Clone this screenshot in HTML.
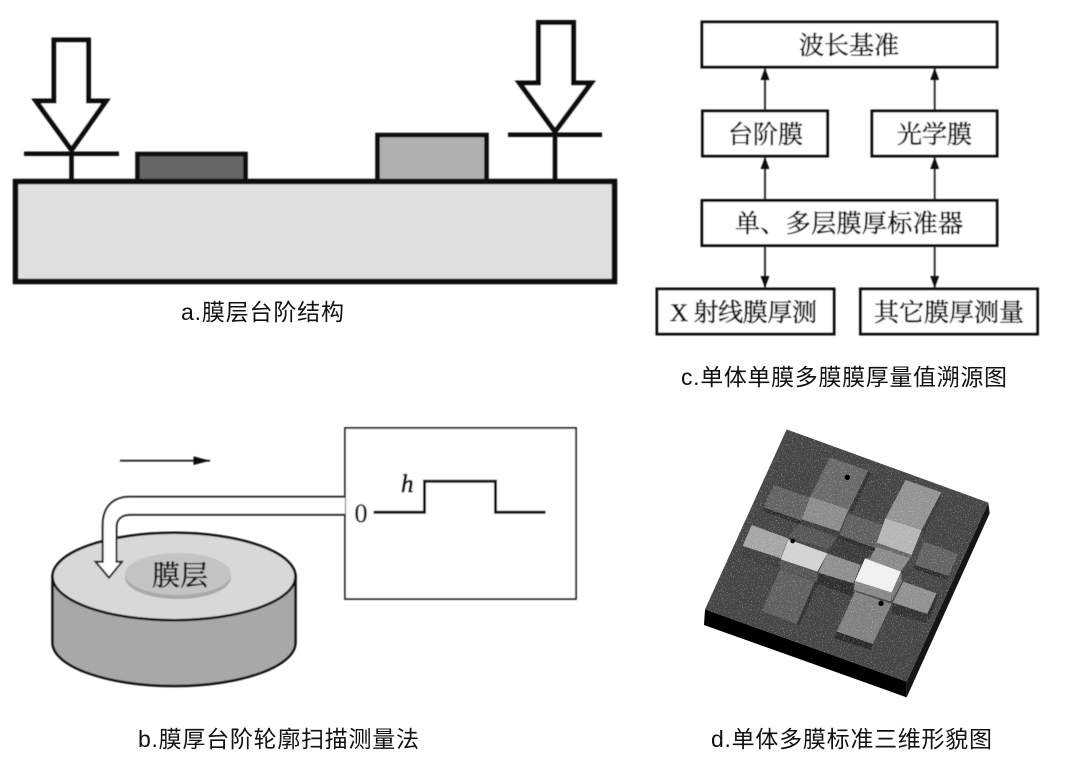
<!DOCTYPE html>
<html><head><meta charset="utf-8"><style>
html,body{margin:0;padding:0;background:#fff}
svg{display:block}
.cap{font-family:"Liberation Sans","Noto Sans CJK SC",sans-serif;font-size:23px;fill:#111}
.bt{font-family:"Liberation Serif","Noto Serif CJK SC",serif;font-size:25px;fill:#111;text-anchor:middle;stroke:#111;stroke-width:.6}
</style></head><body>
<svg width="1080" height="770" viewBox="0 0 1080 770" xmlns="http://www.w3.org/2000/svg">
<defs>
<filter id="s" x="-2%" y="-2%" width="104%" height="104%"><feGaussianBlur stdDeviation="0.45"/></filter>
<filter id="n" x="0" y="0" width="100%" height="100%"><feTurbulence type="fractalNoise" baseFrequency="0.3" numOctaves="2" seed="4"/><feColorMatrix values="0 0 0 0 1  0 0 0 0 1  0 0 0 0 1  4.5 0 0 0 -2.6"/></filter>
<clipPath id="top"><polygon points="140,-62 745,158 500,695 -105,478"/></clipPath>
<marker id="m" viewBox="0 0 12 9" refX="12" refY="4.5" markerWidth="12" markerHeight="9" markerUnits="userSpaceOnUse" orient="auto"><path d="M0 0L12 4.5L0 9Z" fill="#111"/></marker>
</defs>
<rect width="1080" height="770" fill="#fff"/>

<!-- a -->
<g filter="url(#s)" stroke="#0a0a0a">
<rect x="15.500" y="181.500" width="599" height="100" fill="#e0e0e0" stroke-width="5.500"/>
<rect x="137.500" y="154" width="108" height="27" fill="#666" stroke-width="4.500"/>
<rect x="377.500" y="135" width="109" height="46" fill="#b0b0b0" stroke-width="4.500"/>
<path d="M54 40H88.500V101H106L71.500 150L36 101H54Z" fill="#fff" stroke-width="5"/>
<path d="M24 153.700H119M71.500 152V180" fill="none" stroke-width="4.500"/>
<path d="M538.500 22.500H573.500V83H591L555 131.500L519.500 83H538.500Z" fill="#fff" stroke-width="5"/>
<path d="M508 134.700H602M555 133V180" fill="none" stroke-width="4.500"/>
</g>
<text class="cap" x="181" y="320" textLength="163">a.膜层台阶结构</text>

<!-- c -->
<g filter="url(#s)">
<g fill="#fff" stroke="#111" stroke-width="3">
<rect x="702" y="22" width="295" height="45"/>
<rect x="702.500" y="111" width="125" height="45"/>
<rect x="872" y="111" width="125" height="45"/>
<rect x="702" y="200.500" width="295" height="45"/>
<rect x="657" y="289" width="177" height="45"/>
<rect x="860.500" y="289" width="177" height="45"/>
</g>
<g stroke="#222" stroke-width="1.800" fill="none">
<path d="M765 110V68" marker-end="url(#m)"/>
<path d="M934.700 110V68" marker-end="url(#m)"/>
<path d="M765 200V157" marker-end="url(#m)"/>
<path d="M934.700 200V157" marker-end="url(#m)"/>
<path d="M765 246V288" marker-end="url(#m)"/>
<path d="M934.700 246V288" marker-end="url(#m)"/>
</g>
<text class="bt" x="849" y="54">波长基准</text>
<text class="bt" x="765.500" y="143">台阶膜</text>
<text class="bt" x="934.500" y="143">光学膜</text>
<text class="bt" x="849" y="232" textLength="228">单、多层膜厚标准器</text>
<text class="bt" x="743.500" y="321" textLength="147">X 射线膜厚测</text>
<text class="bt" x="949" y="321">其它膜厚测量</text>
</g>
<text class="cap" x="681" y="385" textLength="326">c.单体单膜多膜膜厚量值溯源图</text>

<!-- b -->
<g filter="url(#s)">
<rect x="345" y="428" width="231" height="171" fill="#fff" stroke="#222" stroke-width="1.800"/>
<path d="M120 460.700H210" stroke="#222" stroke-width="1.800" fill="none"/>
<path d="M193.500 456.300L210 460.700L193.500 465Z" fill="#111"/>
<path d="M373.600 512.300H424.500V481.300H495.500V512.300H545.600" fill="none" stroke="#111" stroke-width="3"/>
<text x="354.500" y="522" font-family="Liberation Serif,serif" font-size="26" fill="#111" stroke="#111" stroke-width=".4">0</text>
<text x="401" y="492" font-family="Liberation Serif,serif" font-size="25" font-style="italic" fill="#111" stroke="#111" stroke-width=".8">h</text>
<path d="M52.500 576.500V642.500C52.500 666.500 107 686 174 686C241 686 295.500 666.500 295.500 642.500V576.500Z" fill="#a8a8a8" stroke="#0a0a0a" stroke-width="2.500"/>
<ellipse cx="174" cy="576.500" rx="121.500" ry="43.700" fill="#d8d8d8" stroke="#0a0a0a" stroke-width="2.500"/>
<ellipse cx="178" cy="577.500" rx="53" ry="21.500" fill="#a9a9a9"/>
<ellipse cx="178" cy="574" rx="53" ry="21" fill="#c4c4c4"/>
<text x="180" y="585" font-family="Liberation Serif,Noto Serif CJK SC,serif" font-size="28" fill="#111" stroke="#111" stroke-width=".5" text-anchor="middle">膜层</text>
<path d="M345 496.700H130C112 496.700 102.700 508 102.700 525V561.700H95.500L109 577.700L122 561.700H116.500V527C116.500 519 122 514.700 130 514.700H345" fill="#fff" stroke="#222" stroke-width="2"/>
</g>
<text class="cap" x="138" y="747" textLength="281">b.膜厚台阶轮廓扫描测量法</text>

<!-- d -->
<g transform="translate(740 450) scale(.33333)">
<g filter="url(#s)">
<polygon points="-105,478 500,695 500,742 -108,525" fill="#030303"/>
<polygon points="745,158 749,190 500,742 500,695" fill="#141414"/>
<polygon points="140,-62 745,158 500,695 -105,478" fill="#444"/>
<polygon points="270,22 385,62 328,178 210,140" fill="#696969"/>
<polygon points="385,62 392,70 335,190 328,178" fill="#303030"/>
<polygon points="102,105 208,142 183,212 70,172" fill="#646464"/>
<polygon points="70,172 183,212 183,224 72,184" fill="#2e2e2e"/>
<polygon points="175,222 290,262 262,298 145,260" fill="#575757"/>
<polygon points="292,265 398,298 365,345 262,310" fill="#3a3a3a"/>
<polygon points="210,140 326,178 298,245 185,208" fill="#8b8b8b"/>
<polygon points="185,208 298,245 295,258 180,220" fill="#3c3c3c"/>
<polygon points="325,190 428,225 408,295 298,255" fill="#5f5f5f"/>
<polygon points="298,255 408,295 405,305 292,265" fill="#2e2e2e"/>
<polygon points="497,90 604,127 545,240 436,205" fill="#939393"/>
<polygon points="604,127 600,150 548,262 545,240" fill="#3a3a3a"/>
<polygon points="552,275 655,312 625,378 525,345" fill="#636363"/>
<polygon points="525,345 625,378 622,390 520,356" fill="#2e2e2e"/>
<polygon points="120,358 225,395 170,522 65,483" fill="#5e5e5e"/>
<polygon points="225,395 234,402 178,527 170,522" fill="#303030"/>
<polygon points="345,425 455,462 398,582 290,545" fill="#808080"/>
<polygon points="290,545 398,582 395,600 282,565" fill="#2a2a2a"/>
<polygon points="455,462 462,470 410,590 398,582" fill="#444"/>
<polygon points="490,395 590,430 562,492 458,458" fill="#909090"/>
<polygon points="458,458 562,492 560,520 455,490" fill="#333"/>
<polygon points="590,430 592,445 566,510 562,492" fill="#2e2e2e"/>
<polygon points="412,285 515,318 482,365 375,325 390,325" fill="#8a8a8a"/>
<polygon points="515,320 518,345 485,400 482,365" fill="#444"/>
<polygon points="436,205 545,240 515,315 410,278" fill="#b5b5b5"/>
<polygon points="410,278 515,315 512,325 408,290" fill="#666"/>
<polygon points="35,225 145,265 122,325 8,288" fill="#a5a5a5"/>
<polygon points="8,288 122,325 120,355 3,318" fill="#3f3f3f"/>
<polygon points="145,268 262,310 232,365 122,328" fill="#d2d2d2"/>
<polygon points="122,328 232,365 230,395 120,358" fill="#555"/>
<polygon points="262,310 362,345 340,400 235,368" fill="#8e8e8e"/>
<polygon points="235,368 340,400 338,440 232,402" fill="#2e2e2e"/>
<polygon points="375,325 483,365 455,428 345,393" fill="#f0f0f0"/>
<polygon points="345,393 455,428 453,455 342,420" fill="#888"/>
<polygon points="483,365 486,395 455,455 455,428" fill="#777"/>
<rect x="-110" y="-70" width="860" height="770" filter="url(#n)" clip-path="url(#top)" opacity=".45"/>
<circle cx="322" cy="82" r="8" fill="#050505"/>
<circle cx="158" cy="273" r="7" fill="#050505"/>
<circle cx="423" cy="460" r="8" fill="#050505"/>
</g>
</g>
<text class="cap" x="711" y="747" textLength="281">d.单体多膜标准三维形貌图</text>
</svg>
</body></html>
